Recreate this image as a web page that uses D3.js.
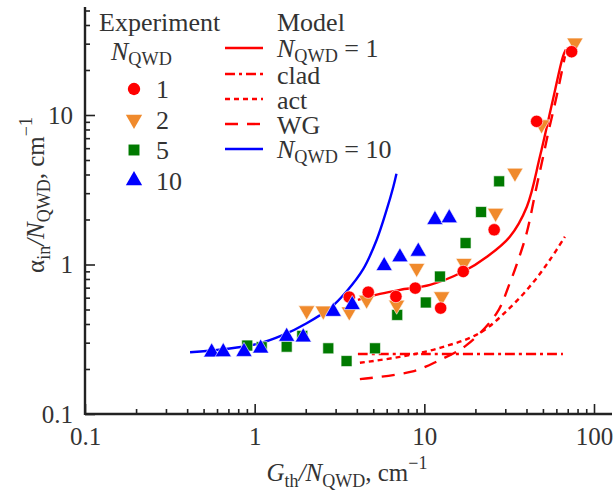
<!DOCTYPE html>
<html><head><meta charset="utf-8">
<script src="https://cdn.jsdelivr.net/npm/d3@7"></script>
<style>html,body{margin:0;padding:0;background:#fff}</style>
</head><body>
<script>
// ---- data ----
const xMajorTicks = [0.1, 1, 10, 100];
const xTickLabels = ["0.1", "1", "10", "100"];
const yMajorTicks = [0.1, 1, 10];
const yTickLabels = ["0.1", "1", "10"];

// experiment, N_QWD = 1 (red circles)
const exp1X = [3.61, 4.67, 6.80, 8.84, 12.48, 16.95, 25.8, 45.9, 73.8];
const exp1Y = [0.605, 0.653, 0.611, 0.695, 0.511, 0.898, 1.707, 9.07, 26.5];
// N_QWD = 2 (orange down-triangles)
const exp2X = [2.025, 2.537, 3.61, 4.57, 6.87, 9.01, 12.65, 17.12, 26.3, 34.2, 49.1, 77.2];
const exp2Y = [0.492, 0.490, 0.484, 0.580, 0.537, 0.946, 0.611, 1.022, 2.21, 4.10, 8.63, 30.4];
// N_QWD = 5 (green squares)
const exp5X = [0.904, 1.10, 1.544, 1.908, 2.716, 3.48, 5.12, 6.92, 10.2, 12.36, 17.5, 21.6, 27.6];
const exp5Y = [0.287, 0.280, 0.282, 0.333, 0.275, 0.226, 0.275, 0.460, 0.557, 0.831, 1.391, 2.244, 3.60];
// N_QWD = 10 (blue up-triangles)
const exp10X = [0.558, 0.653, 0.865, 1.085, 1.544, 1.933, 2.906, 3.76, 5.80, 7.18, 9.21, 11.55, 14.02];
const exp10Y = [0.259, 0.260, 0.261, 0.275, 0.3295, 0.3265, 0.484, 0.537, 0.98, 1.121, 1.222, 1.993, 2.046];

// model curves
const modelN1X = [4.06, 5.48, 7.18, 10.8, 16.9, 23.4, 31.9, 40.2, 48.0, 57.3, 65.6, 68.3];
const modelN1Y = [0.580, 0.636, 0.677, 0.731, 0.894, 1.127, 1.533, 2.435, 5.27, 12.68, 24.6, 27.4];
const cladX = [4.06, 10, 30, 65.6];
const cladY = [0.252, 0.252, 0.252, 0.252];
const actX = [4.17, 7.18, 12.36, 21.3, 31.9, 43.6, 55.0, 67.4];
const actY = [0.220, 0.241, 0.277, 0.349, 0.513, 0.754, 1.075, 1.533];
const wgX = [4.17, 8.42, 11.8, 17.8, 26.7, 31.9, 35.8, 40.1, 45.9, 50.2, 53.7, 60.2, 67.4];
const wgY = [0.171, 0.192, 0.224, 0.290, 0.473, 0.751, 1.075, 1.623, 3.33, 5.29, 7.59, 13.35, 24.7];
const modelN10X = [0.416, 0.653, 1.027, 1.474, 2.025, 2.78, 3.48, 4.36, 5.24, 6.0, 6.56, 6.85];
const modelN10Y = [0.259, 0.271, 0.293, 0.338, 0.405, 0.510, 0.660, 0.930, 1.464, 2.325, 3.30, 4.05];

const expLegendLabels = ["1", "2", "5", "10"];
const modelLegendLabels = ["clad", "act", "WG"];

// ---- drawing ----
const W = 613, H = 495;
const FS = 25;      // tick labels / axis titles
const LFS = 26;     // legend
const FONT = '"Liberation Serif"';
const svg = d3.select("body").append("svg").attr("width", W).attr("height", H)
  .style("font-family", FONT).style("display", "block");

const x = d3.scaleLog().domain([0.1, 100]).range([85, 594]);
const y = d3.scaleLog().domain([0.1, 10]).range([414, 115]);

const RED = "#ff0000", ORANGE = "#f08a2c", GREEN = "#007a00", BLUE = "#0000ff";

function minors(lo, hi) {
  const out = [];
  for (let d = lo; d < hi; d *= 10) for (let k = 2; k <= 9; k++) out.push(d * k);
  return out;
}
const xMinor = minors(0.1, 100);
const yMinor = minors(0.1, 10).concat([20, 30, 40, 50]);

// axes
const gx = svg.append("g").attr("transform", "translate(0,414)");
gx.call(d3.axisBottom(x).tickValues(xMinor).tickSize(-5).tickFormat(""));
gx.select(".domain").remove();
const gx2 = svg.append("g").attr("transform", "translate(0,414)");
gx2.call(d3.axisBottom(x).tickValues(xMajorTicks).tickSize(-10).tickPadding(13)
  .tickFormat((d, i) => xTickLabels[i]));
gx2.select(".domain").remove();

const yMinorScale = d3.scaleLog().domain([0.1, 50]).range([414, y(50)]);
const gy = svg.append("g").attr("transform", "translate(85,0)");
gy.call(d3.axisLeft(yMinorScale).tickValues(yMinor).tickSize(-5).tickFormat(""));
gy.select(".domain").remove();
const gy2 = svg.append("g").attr("transform", "translate(85,0)");
gy2.call(d3.axisLeft(y).tickValues(yMajorTicks).tickSize(-10).tickPadding(12)
  .tickFormat((d, i) => yTickLabels[i]));
gy2.select(".domain").remove();

svg.selectAll(".tick line").attr("stroke", "#222").attr("stroke-width", 1.6);
svg.selectAll(".tick text").attr("font-size", FS).attr("fill", "#333");

svg.append("line").attr("x1", 85).attr("x2", 612).attr("y1", 414).attr("y2", 414)
  .attr("stroke", "#222").attr("stroke-width", 2.4);
svg.append("line").attr("x1", 85).attr("x2", 85).attr("y1", 415).attr("y2", 7)
  .attr("stroke", "#222").attr("stroke-width", 2.4);

// axis titles
const SUB = FS * 0.72;
const xt = svg.append("text").attr("x", 347).attr("y", 481).attr("text-anchor", "middle")
  .attr("font-size", FS).attr("fill", "#333");
xt.append("tspan").attr("font-style", "italic").text("G");
xt.append("tspan").attr("font-size", SUB).attr("dy", 6).text("th");
xt.append("tspan").attr("dy", -6).attr("font-style", "italic").text("/N");
xt.append("tspan").attr("font-size", SUB).attr("dy", 6).text("QWD");
xt.append("tspan").attr("dy", -6).text(", cm");
xt.append("tspan").attr("font-size", SUB).attr("dy", -12).text("−1");

const yt = svg.append("text").attr("transform", "translate(44,195) rotate(-90)")
  .attr("text-anchor", "middle").attr("font-size", FS).attr("fill", "#333");
yt.append("tspan").text("α");
yt.append("tspan").attr("font-size", SUB).attr("dy", 6).text("in");
yt.append("tspan").attr("dy", -6).attr("font-style", "italic").text("/N");
yt.append("tspan").attr("font-size", SUB).attr("dy", 6).text("QWD");
yt.append("tspan").attr("dy", -6).text(", cm");
yt.append("tspan").attr("font-size", SUB).attr("dy", -12).text("−1");

// model curves
function drawCurve(xs, ys, color, dash) {
  const pts = xs.map((v, i) => [x(v), y(ys[i])]);
  const p = svg.append("path").attr("d", d3.line().curve(d3.curveCatmullRom.alpha(0.5))(pts))
    .attr("fill", "none").attr("stroke", color).attr("stroke-width", 2.4);
  if (dash) p.attr("stroke-dasharray", dash);
}
const DASH_CLAD = "10,4,3,4", DASH_ACT = "5,4", DASH_WG = "13,9";
drawCurve(cladX, cladY, RED, DASH_CLAD);
drawCurve(actX, actY, RED, DASH_ACT);
drawCurve(wgX, wgY, RED, DASH_WG);
drawCurve(modelN1X, modelN1Y, RED, null);
drawCurve(modelN10X, modelN10Y, BLUE, null);

// markers
const symCircle = d3.symbol().type(d3.symbolCircle).size(120);
const symSquare = d3.symbol().type(d3.symbolSquare).size(120);
const symTri = d3.symbol().type(d3.symbolTriangle).size(115);
function drawPoints(xs, ys, sym, color, rot) {
  svg.append("g").selectAll("path").data(xs).join("path")
    .attr("d", sym)
    .attr("transform", (d, i) => `translate(${x(d)},${y(ys[i])}) rotate(${rot})`)
    .attr("fill", color).attr("stroke", "#fff").attr("stroke-width", 0.6);
}
drawPoints(exp5X, exp5Y, symSquare, GREEN, 0);
drawPoints(exp2X, exp2Y, symTri, ORANGE, 180);
drawPoints(exp1X, exp1Y, symCircle, RED, 0);
drawPoints(exp10X, exp10Y, symTri, BLUE, 0);

// legend - experiment
const LSUB = LFS * 0.7;
const leg = svg.append("g").attr("font-size", LFS).attr("fill", "#333");
leg.append("text").attr("x", 99).attr("y", 31).text("Experiment");
const nq = leg.append("text").attr("x", 111).attr("y", 60);
nq.append("tspan").attr("font-style", "italic").text("N");
nq.append("tspan").attr("font-size", LSUB).attr("dy", 5).text("QWD");
const expSyms = [[symCircle, RED, 0], [symTri, ORANGE, 180], [symSquare, GREEN, 0], [symTri, BLUE, 0]];
expLegendLabels.forEach((lab, i) => {
  const cy = 89 + i * 30.5;
  leg.append("path").attr("d", expSyms[i][0]).attr("transform", `translate(134,${cy}) rotate(${expSyms[i][2]})`)
    .attr("fill", expSyms[i][1]);
  leg.append("text").attr("x", 156).attr("y", cy + 9).text(lab);
});

// legend - model
leg.append("text").attr("x", 277).attr("y", 31).text("Model");
function legLine(yy, color, dash) {
  const l = leg.append("line").attr("x1", 225).attr("x2", 263).attr("y1", yy).attr("y2", yy)
    .attr("stroke", color).attr("stroke-width", 2.4);
  if (dash) l.attr("stroke-dasharray", dash);
}
function nqwdLabel(yy, val) {
  const t = leg.append("text").attr("x", 277).attr("y", yy);
  t.append("tspan").attr("font-style", "italic").text("N");
  t.append("tspan").attr("font-size", LSUB).attr("dy", 5).text("QWD");
  t.append("tspan").attr("dy", -5).text(" = " + val);
}
legLine(48, RED, null);
nqwdLabel(57, 1);
const modelDashes = [DASH_CLAD, DASH_ACT, DASH_WG];
modelLegendLabels.forEach((lab, i) => {
  const yy = 74 + i * 25;
  legLine(yy, RED, modelDashes[i]);
  leg.append("text").attr("x", 277).attr("y", yy + 10).text(lab);
});
legLine(149, BLUE, null);
nqwdLabel(158, 10);

// force serif font on all texts (axis sets its own attribute)
svg.selectAll("text").style("font-family", FONT);
</script>
</body></html>
